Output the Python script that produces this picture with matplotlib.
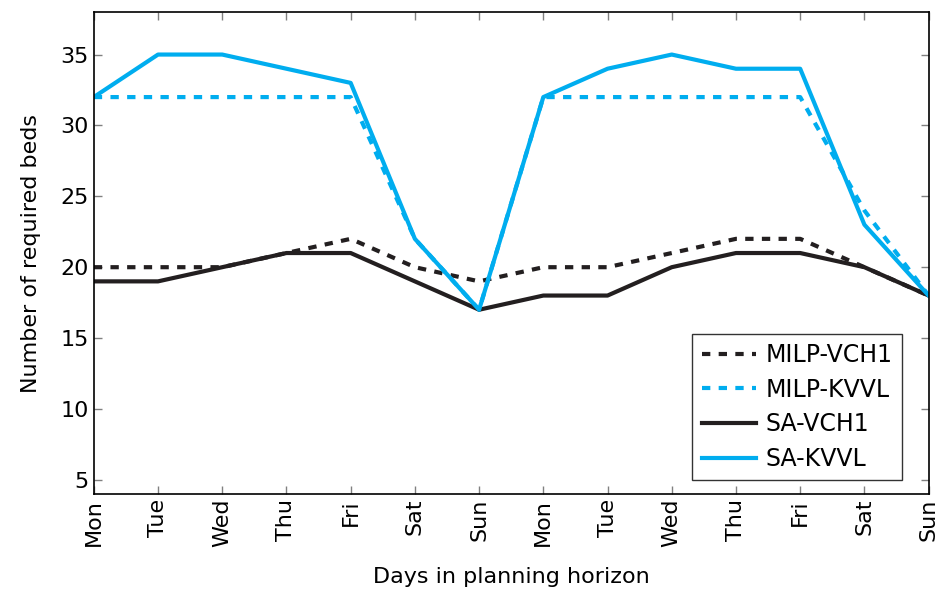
import numpy as np
import matplotlib
matplotlib.use('Agg')
import matplotlib.pyplot as plt

days = ['Mon', 'Tue', 'Wed', 'Thu', 'Fri', 'Sat', 'Sun',
        'Mon', 'Tue', 'Wed', 'Thu', 'Fri', 'Sat', 'Sun']
milp_vch1 = [20, 20, 20, 21, 22, 20, 19, 20, 20, 21, 22, 22, 20, 18]
milp_kvvl = [32, 32, 32, 32, 32, 22, 17, 32, 32, 32, 32, 32, 24, 18]
sa_vch1 = [19, 19, 20, 21, 21, 19, 17, 18, 18, 20, 21, 21, 20, 18]
sa_kvvl = [32, 35, 35, 34, 33, 22, 17, 32, 34, 35, 34, 34, 23, 18]

zwart = '#231f20'
blauw = '#00adef'

plt.rcParams['font.family'] = 'DejaVu Sans'

fig = plt.figure(figsize=(9.38, 6.01), dpi=100)
ax = fig.add_axes([0.1, 0.178, 0.89, 0.802])

x = np.arange(len(days))
ax.plot(x, milp_vch1, color=zwart, lw=3, ls=(0, (2, 2)), label='MILP-VCH1')
ax.plot(x, milp_kvvl, color=blauw, lw=3, ls=(0, (2, 2)), label='MILP-KVVL')
ax.plot(x, sa_vch1, color=zwart, lw=3, label='SA-VCH1')
ax.plot(x, sa_kvvl, color=blauw, lw=3, label='SA-KVVL')

ax.set_xlim(0, 13)
ax.set_ylim(4, 38)
ax.set_xticks(x)
ax.set_xticklabels(days, rotation=90, fontsize=16)
ax.set_yticks([5, 10, 15, 20, 25, 30, 35])
ax.tick_params(axis='y', labelsize=16)
ax.tick_params(direction='in', length=6, width=1, color='#808080',
               top=True, right=True)
for s in ax.spines.values():
    s.set_linewidth(1.2)

ax.set_xlabel('Days in planning horizon', fontsize=16, labelpad=14)
ax.set_ylabel('Number of required beds', fontsize=16, labelpad=14)

leg = ax.legend(loc='lower right', bbox_to_anchor=(0.982, 0.004), fontsize=17,
                fancybox=False, edgecolor='black', handlelength=2.3,
                handletextpad=0.4, borderpad=0.4, labelspacing=0.45)
leg.get_frame().set_linewidth(1)

fig.savefig('out.png', dpi=100)
